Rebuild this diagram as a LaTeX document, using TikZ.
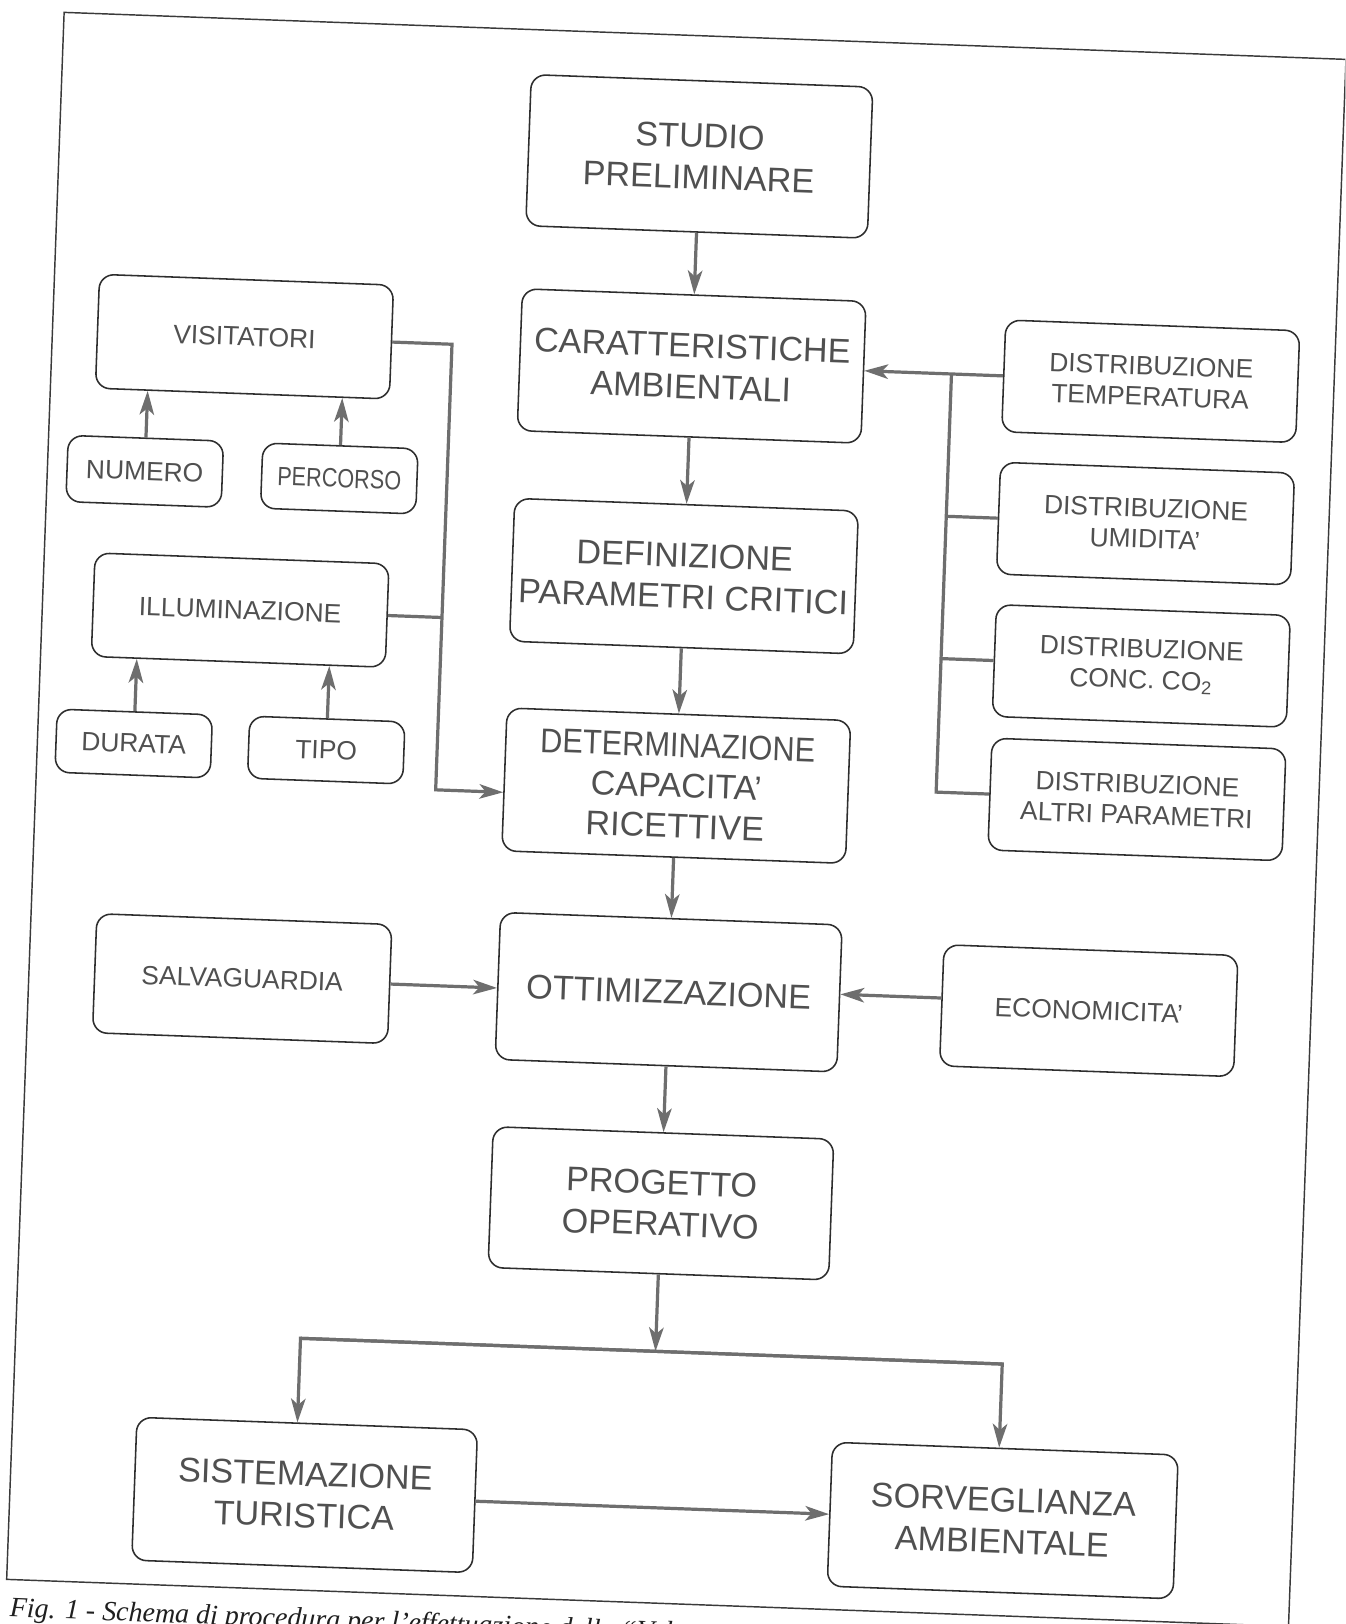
\documentclass[tikz,border=0pt]{standalone}
\usepackage{fontspec}
\setmainfont{Liberation Sans}
\newfontfamily\capfont{Liberation Serif}
\usetikzlibrary{arrows.meta,calc}
\definecolor{txtc}{HTML}{505050}
\definecolor{boxc}{HTML}{2E2E2E}
\definecolor{linec}{HTML}{6E6E6E}
\definecolor{framec}{HTML}{3A3A3A}
\begin{document}
\begin{tikzpicture}[x=1pt,y=-1pt,
  box/.style={draw=boxc, line width=1.5pt, rounded corners=14pt, fill=white, text=txtc, align=center, inner sep=0pt},
  big/.style={box, font=\fontsize{33}{40}\selectfont},
  small/.style={box, font=\fontsize{25.5}{30}\selectfont},
  conn/.style={draw=linec, line width=3.1pt},
  arr/.style={conn, -{Stealth[length=23pt,width=14pt,inset=6pt]}},
  wh/.style 2 args={minimum width=#1pt, minimum height=#2pt}
]
\fill[white] (0,0) rectangle (1299,1568);
\useasboundingbox (0,0) rectangle (1299,1568);
\clip (0,0) rectangle (1299,1568);
\begin{scope}[transform canvas={rotate around={-2.1:(650,784)}}]
% frame
\draw[draw=framec, line width=1.4pt] (34,34) rectangle (1272.5,1548);
% main column
\node[big, wh={330}{146}] (studio) at (652,150.5) {STUDIO\\PRELIMINARE};
\node[big, wh={332}{137}] (caratt) at (652,353) {CARATTERISTICHE\\AMBIENTALI};
\node[big, wh={332}{138}] (defin) at (652,556) {DEFINIZIONE\\PARAMETRI CRITICI};
\node[big, wh={332}{138}, font=\fontsize{33}{39}\selectfont] (determ) at (652,758.5) {\scalebox{0.9}[1]{DETERMINAZIONE}\\CAPACITA’\\RICETTIVE};
\node[big, wh={330}{142}] (ottim) at (652,958) {OTTIMIZZAZIONE};
\node[big, wh={329}{136}] (prog) at (652,1162) {PROGETTO\\OPERATIVO};
\node[big, wh={329}{138}] (sist) at (318.5,1456) {SISTEMAZIONE\\TURISTICA};
\node[big, wh={334}{139}] (sorv) at (993,1456) {SORVEGLIANZA\\AMBIENTALE};
% left side
\node[small, wh={284}{110}] (visit) at (219.5,340.5) {VISITATORI};
\node[small, wh={150}{64}] (numero) at (128,474) {NUMERO};
\node[small, wh={150}{63}] (percorso) at (316,474) {\scalebox{0.82}[1]{PERCORSO}};
\node[small, wh={284}{100}] (illum) at (225,604.5) {ILLUMINAZIONE};
\node[small, wh={150}{61}] (durata) at (127,737) {DURATA};
\node[small, wh={150}{60}] (tipo) at (313,736.5) {TIPO};
% right side
\node[small, wh={284}{108}] (dtemp) at (1095.5,351.5) {DISTRIBUZIONE\\TEMPERATURA};
\node[small, wh={284}{108}] (dumid) at (1095.5,489) {DISTRIBUZIONE\\UMIDITA’};
\node[small, wh={284}{108}] (dco2) at (1096.5,626.5) {DISTRIBUZIONE\\CONC. CO\textsubscript{2}};
\node[small, wh={284}{108}] (daltri) at (1097,755.5) {DISTRIBUZIONE\\ALTRI PARAMETRI};
% optimisation inputs
\node[small, wh={285}{115}] (salv) at (240,960) {SALVAGUARDIA};
\node[small, wh={284}{117}] (econ) at (1058,961) {ECONOMICITA’};
% helper coordinates
\coordinate (lb) at (420,0);
\coordinate (rb) at (903,0);
\coordinate (hy) at (0,1305);
\coordinate (jl) at (309,1305);
\coordinate (jr) at (987,1305);
% main flow
\draw[arr] (studio.south) -- (caratt.north);
\draw[arr] (caratt.south) -- (defin.north);
\draw[arr] (defin.south) -- (determ.north);
\draw[arr] (determ.south) -- (ottim.north);
\draw[arr] (ottim.south) -- (prog.north);
\draw[arr] (prog.south) -- (prog.south |- hy);
\draw[arr] (jr) -- (jl) -- (jl |- sist.north);
\draw[arr] (jl) -- (jr) -- (jr |- sorv.north);
\draw[arr] (sist.east) -- (sist.east -| sorv.west);
% left inputs
\draw[arr] (numero.north) -- (numero.north |- visit.south);
\draw[arr] (percorso.north) -- (percorso.north |- visit.south);
\draw[arr] (durata.north) -- (durata.north |- illum.south);
\draw[arr] (tipo.north) -- (tipo.north |- illum.south);
\draw[arr] (visit.east) -- (lb |- visit.east) |- ([yshift=-12.5pt]determ.west);
\draw[conn] (illum.east) -- (illum.east -| lb);
% right inputs
\draw[arr] (dtemp.west) -- (dtemp.west -| caratt.east);
\draw[conn] (rb |- dtemp.west) -- (rb |- daltri.west) -- (daltri.west);
\draw[conn] (dumid.west) -- (dumid.west -| rb);
\draw[conn] (dco2.west) -- (dco2.west -| rb);
% optimisation
\draw[arr] (salv.east) -- (salv.east -| ottim.west);
\draw[arr] ([yshift=7pt]econ.west) -- ([yshift=7pt]econ.west -| ottim.east);
% caption
\node[anchor=base west, inner sep=0pt, text=black!88, font=\capfont\itshape\fontsize{27}{32}\selectfont] (cap) at (38,1584) {Fig. 1 - Schema di procedura per l’effettuazione della “Val};
\end{scope}
\end{tikzpicture}
\end{document}
